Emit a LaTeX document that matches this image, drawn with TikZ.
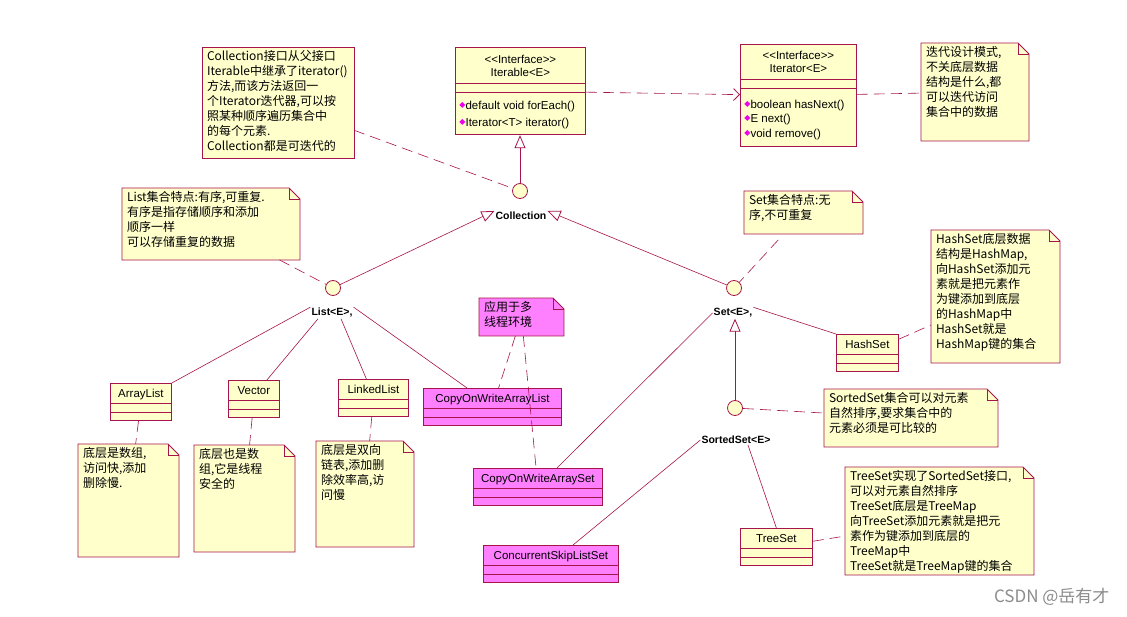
\documentclass[tikz,border=0pt]{standalone}
\usepackage{fontspec}
\setmainfont{Liberation Sans}
\newfontfamily\cjk{Noto Sans CJK SC}
\newfontfamily\symfont{DejaVu Sans}
\usetikzlibrary{arrows.meta,shapes.multipart,calc}

\definecolor{umlred}{RGB}{165,20,75}
\definecolor{notefill}{RGB}{255,255,204}
\definecolor{magfill}{RGB}{255,128,255}
\definecolor{opmag}{RGB}{235,0,235}

% class name part with fixed height
\newcommand{\clsname}[1]{\rule[-5pt]{0pt}{19pt}#1}
% operation marker
\newcommand{\opm}{{\symfont\fontsize{8}{8}\selectfont\raisebox{2pt}{\textcolor{opmag}{◆}}}}
% stereotype, without the << ligature
\newcommand{\stereo}{<{}<Interface>{}>}
% top-left aligned note body: width, height, text
\newcommand{\notetext}[3]{\parbox[c][#2][t]{#1}{\raggedright\leftskip=5pt\vspace*{3pt}#3}}
% outline of a note with folded corner
\newcommand{\foldnote}[1]{%
  \fill[white] ($(#1.north east)+(-11,0)$) -- (#1.north east) -- ($(#1.north east)+(0,11)$) -- cycle;
  \draw[noteline] (#1.north west) -- ($(#1.north east)+(-11,0)$) -- ($(#1.north east)+(0,11)$)
    -- (#1.south east) -- (#1.south west) -- cycle;
  \draw[noteline] ($(#1.north east)+(-11,0)$) |- ($(#1.north east)+(0,11)$);
}

\begin{document}
\begin{tikzpicture}[
    x=1pt, y=-1pt,
    note/.style={fill=notefill, inner sep=0pt, outer sep=0pt, anchor=north west,
                 font=\cjk\fontsize{12}{15}\selectfont},
    noteline/.style={draw=umlred, line width=0.8pt},
    cls/.style={rectangle split, rectangle split parts=3, draw=umlred, fill=notefill,
                line width=0.8pt, inner xsep=4pt, inner ysep=0pt, anchor=north west,
                font=\fontsize{11.5}{13}\selectfont,
                rectangle split empty part height=8pt, rectangle split empty part depth=0pt},
    lolli/.style={circle, draw=umlred, fill=notefill, line width=0.8pt,
                  minimum size=15pt, inner sep=0pt},
    lbl/.style={font=\bfseries\fontsize{10.5}{12}\selectfont, inner sep=1pt},
    assoc/.style={draw=umlred, line width=0.6pt},
    realize/.style={assoc, -{Triangle[open, length=13pt, width=11pt, line width=0.8pt]}},
    dep/.style={assoc, dash pattern=on 11pt off 6pt},
    deparr/.style={dep, -{Straight Barb[length=6pt, width=12pt, line width=0.8pt]}},
  ]
    \fill[white] (0,0) rectangle (1127,617);
    \useasboundingbox (0,0) rectangle (1127,617);

    % interfaces on top
    \node[cls] (itb) at (455,47)
      {\parbox{122pt}{\centering\rule{0pt}{16pt}\stereo\\Iterable<E>\rule[-6pt]{0pt}{6pt}}
       \nodepart{two}
       \nodepart{three}\parbox{122pt}{\fontsize{11.5}{17}\selectfont\rule{0pt}{17pt}\opm default void forEach()\\
         \opm Iterator<T> iterator()\rule[-8pt]{0pt}{8pt}}};
    \node[cls] (itr) at (740,44)
      {\parbox{108pt}{\centering\rule{0pt}{15pt}\stereo\\Iterator<E>\rule[-6pt]{0pt}{6pt}}
       \nodepart{two}
       \nodepart{three}\parbox{108pt}{\fontsize{11.5}{14.5}\selectfont\rule{0pt}{20pt}\opm boolean hasNext()\\
         \opm E next()\\\opm void remove()\rule[-9pt]{0pt}{9pt}}};

    \node[note, draw=umlred, line width=0.8pt] (cnote) at (202,47)
      {\notetext{152pt}{111pt}{Collection接口从父接口\\Iterable中继承了iterator()\\方法,而该方法返回一\\个Iterator迭代器,可以按\\照某种顺序遍历集合中\\的每个元素.\\Collection都是可迭代的}};
    \node[note] (inote) at (921,43)
      {\notetext{108pt}{98pt}{迭代设计模式,\\不关底层数据\\结构是什么,都\\可以迭代访问\\集合中的数据}};

    % interface circles and names
    \node[lolli] (collc) at (520,191) {};
    \node[lbl] (colllbl) at (521,216) {Collection};
    \node[lolli] (listc) at (333,288) {};
    \node[lbl] (listlbl) at (332,313) {List<E>,};
    \node[lolli] (setc) at (734,288) {};
    \node[lbl] (setlbl) at (733,313) {Set<E>,};
    \node[lolli] (sortc) at (735,408) {};
    \node[lbl] (sortlbl) at (736,440) {SortedSet<E>};

    \node[note] (lnote) at (122,188)
      {\notetext{178pt}{72pt}{List集合特点:有序,可重复.\\有序是指存储顺序和添加\\顺序一样\\可以存储重复的数据}};
    \node[note] (snote) at (744,191)
      {\notetext{119pt}{43pt}{Set集合特点:无\\序,不可重复}};
    \node[note] (hnote) at (931,230)
      {\notetext{129pt}{133pt}{HashSet底层数据\\结构是HashMap,\\向HashSet添加元\\素就是把元素作\\为键添加到底层\\的HashMap中\\HashSet就是\\HashMap键的集合}};
    \node[note] (ssnote) at (824,389)
      {\notetext{174pt}{58pt}{SortedSet集合可以对元素\\自然排序,要求集合中的\\元素必须是可比较的}};
    \node[note] (tnote) at (845,467)
      {\notetext{189pt}{108pt}{TreeSet实现了SortedSet接口,\\可以对元素自然排序\\TreeSet底层是TreeMap\\向TreeSet添加元素就是把元\\素作为键添加到底层的\\TreeMap中\\TreeSet就是TreeMap键的集合}};
    \node[note, fill=magfill] (mnote) at (479,298)
      {\notetext{85pt}{38pt}{应用于多\\线程环境}};

    % implementing classes
    \node[cls, minimum width=61pt] (al) at (110,383) {\clsname{ArrayList}\nodepart{two}\nodepart{three}};
    \node[cls, minimum width=51pt] (vec) at (228,380) {\clsname{Vector}\nodepart{two}\nodepart{three}};
    \node[cls, minimum width=70pt] (ll) at (338,379) {\clsname{LinkedList}\nodepart{two}\nodepart{three}};
    \node[cls, fill=magfill, minimum width=138pt] (cowal) at (423,388) {\clsname{CopyOnWriteArrayList}\nodepart{two}\nodepart{three}};
    \node[cls, fill=magfill, minimum width=129pt] (cowas) at (473,468) {\clsname{CopyOnWriteArraySet}\nodepart{two}\nodepart{three}};
    \node[cls, fill=magfill, minimum width=135pt] (csls) at (483,545) {\clsname{ConcurrentSkipListSet}\nodepart{two}\nodepart{three}};
    \node[cls, minimum width=62pt] (hs) at (836,334) {\clsname{HashSet}\nodepart{two}\nodepart{three}};
    \node[cls, minimum width=72pt] (ts) at (740,528) {\clsname{TreeSet}\nodepart{two}\nodepart{three}};

    \node[note] (alnote) at (78,444)
      {\notetext{101pt}{113pt}{底层是数组,\\访问快,添加\\删除慢.}};
    \node[note] (vnote) at (194,445)
      {\notetext{101pt}{107pt}{底层也是数\\组,它是线程\\安全的}};
    \node[note] (llnote) at (316,441)
      {\notetext{98pt}{106pt}{底层是双向\\链表,添加删\\除效率高,访\\问慢}};

    \foldnote{inote} \foldnote{lnote} \foldnote{snote} \foldnote{hnote}
    \foldnote{ssnote} \foldnote{tnote} \foldnote{mnote}
    \foldnote{alnote} \foldnote{vnote} \foldnote{llnote}

    % connectors
    \draw[realize] (collc) -- (collc |- itb.south);
    \draw[deparr] (itb) -- (itr);
    \draw[dep] (itr) -- (inote);
    \draw[dep] (cnote) -- (collc);
    \draw[realize] (listc) -- (colllbl.north west);
    \draw[realize] (setc) -- (colllbl.north east);
    \draw[dep] (lnote) -- (listc);
    \draw[dep, shorten <=8pt] (snote) -- (setc);
    \draw[assoc] (al.north east) -- (listlbl.north west);
    \draw[assoc] ($(vec.north)+(13,0)$) -- ($(listlbl.south)+(-14,0)$);
    \draw[assoc] ($(ll.north)+(-7,0)$) -- ($(listlbl.south)+(9,0)$);
    \draw[assoc] ($(cowal.north west)+(44,0)$) -- (listlbl.north east);
    \draw[dep] (mnote) -- (cowal);
    \draw[dep] (mnote) -- (cowas);
    \draw[assoc] ($(cowas.north west)+(84,0)$) -- (setlbl.west);
    \draw[assoc] (setlbl.north east) -- (hs.north west);
    \draw[dep] (hs) -- (hnote);
    \draw[realize] (sortc) -- (sortc |- setlbl.south);
    \draw[dep] (sortc) -- (ssnote);
    \draw[assoc] ($(csls.north west)+(90,0)$) -- (sortlbl.west);
    \draw[assoc] ($(sortlbl.south)+(12,0)$) -- (ts.north);
    \draw[dep] (ts) -- (tnote);
    \draw[dep] (al) -- (alnote);
    \draw[dep] (vec) -- (vnote);
    \draw[dep] (ll) -- (llnote);

    \node[anchor=east, text=black!45, font=\cjk\fontsize{17}{17}\selectfont] (wm) at (1113,597) {CSDN @岳有才};
\end{tikzpicture}
\end{document}
